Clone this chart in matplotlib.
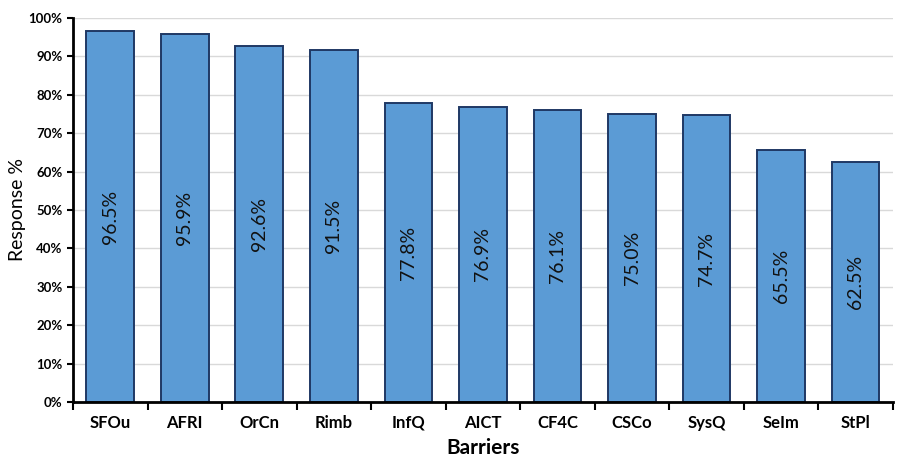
import numpy as np
import matplotlib
matplotlib.use("Agg")
import matplotlib.pyplot as plt
from matplotlib.ticker import PercentFormatter, FixedLocator

# barriers and share of respondents
barriers = ["SFOu", "AFRI", "OrCn", "Rimb", "InfQ", "AICT", "CF4C", "CSCo", "SysQ", "SeIm", "StPl"]
response = [96.5, 95.9, 92.6, 91.5, 77.8, 76.9, 76.1, 75.0, 74.7, 65.5, 62.5]
y_ticks = [0, 10, 20, 30, 40, 50, 60, 70, 80, 90, 100]

plt.rcParams['font.family'] = ['Lato', 'DejaVu Sans']

fig = plt.figure(figsize=(9.01, 4.57), dpi=100)
ax = fig.add_axes([0.081, 0.120, 0.910, 0.841])

x = np.arange(len(barriers))
bars = ax.bar(x, response, width=0.64, color="#5B9BD5", edgecolor="#1F3864", linewidth=1.4, zorder=3)

for xi, v in zip(x, response):
    ax.text(xi, v / 2, f"{v:.1f}%", rotation=90, ha="center", va="center",
            fontsize=14, color="#111111", zorder=4)

ax.set_xlim(-0.5, len(barriers) - 0.5)
ax.set_ylim(0, 100)
ax.set_yticks(y_ticks)
ax.yaxis.set_major_formatter(PercentFormatter(decimals=0))
ax.grid(axis="y", color="#D9D9D9", linewidth=1, zorder=0)

ax.set_xticks(x)
ax.set_xticklabels(barriers, fontweight="bold", fontsize=12)
ax.xaxis.set_minor_locator(FixedLocator(np.arange(-0.5, len(barriers), 1.0)))
ax.tick_params(axis="x", which="major", direction="in", length=4, width=1.5, pad=9)
ax.tick_params(axis="x", which="minor", direction="out", length=6, width=1.5)
ax.tick_params(axis="y", direction="out", length=4, width=1.5, labelsize=9.5)
for lab in ax.get_yticklabels():
    lab.set_fontweight("bold")

for s in ["top", "right"]:
    ax.spines[s].set_visible(False)
for s in ["left", "bottom"]:
    ax.spines[s].set_linewidth(2)
    ax.spines[s].set_zorder(5)

ax.set_xlabel("Barriers", fontweight="bold", fontsize=15, labelpad=5)
ax.set_ylabel("Response %", fontsize=14, labelpad=2)

fig.savefig("out.png", dpi=100)
